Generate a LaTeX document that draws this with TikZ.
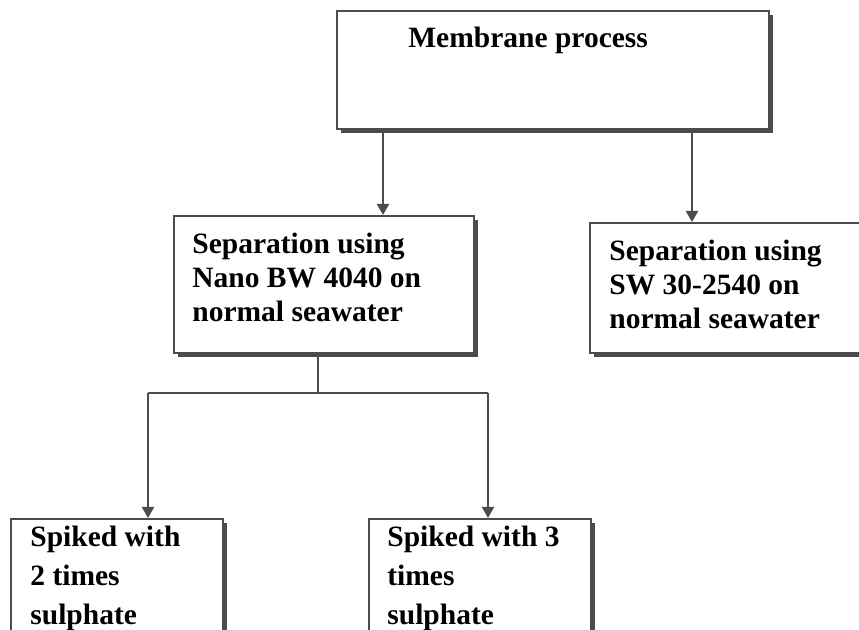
\documentclass[tikz,border=0pt]{standalone}
\usepackage{fontspec}
\setmainfont{Liberation Serif}
\usepackage{tikz}
\usetikzlibrary{arrows.meta,shadows}

\begin{document}
\begin{tikzpicture}[x=0.5pt,y=-0.5pt,
 box/.style={draw=black!70,line width=1pt,fill=white,anchor=north west,inner sep=0pt,
  drop shadow={shadow xshift=2.2pt,shadow yshift=-2.2pt,fill=black!70,opacity=1}},
 txt/.style={anchor=north west,inner sep=0pt,align=left,font=\fontsize{14.75pt}{16.9pt}\selectfont\bfseries},
 txtb/.style={txt,font=\fontsize{14.75pt}{19.3pt}\selectfont\bfseries},
 ln/.style={draw=black!70,line width=1pt},
 arr/.style={ln,-{Triangle[width=6pt,length=5.5pt]}}]
\useasboundingbox (0,0) rectangle (859,630);
\clip (0,0) rectangle (859,630);
\node[box,minimum width=216pt,minimum height=59pt] (top) at (336,10) {};
\node[txt] (toptxt) at (408,27) {Membrane process};
\node[box,minimum width=150pt,minimum height=68.5pt] (nano) at (173,215) {};
\node[txt] (nanotxt) at (192,233) {Separation using\\Nano BW 4040 on\\normal seawater};
\node[box,minimum width=140.5pt,minimum height=65pt] (sw) at (589,222) {};
\node[txt] (swtxt) at (609,240) {Separation using\\SW 30-2540 on\\normal seawater};
\node[box,minimum width=106pt,minimum height=66pt] (two) at (10,518) {};
\node[txtb] (twotxt) at (30,526) {Spiked with\\2 times\\sulphate};
\node[box,minimum width=111pt,minimum height=66pt] (three) at (368,518) {};
\node[txtb] (threetxt) at (387,526) {Spiked with 3\\times\\sulphate};
% connectors
\draw[arr] ([xshift=23.5pt]top.south west) coordinate (p1) -- (p1 |- nano.north);
\draw[arr] ([xshift=178pt]top.south west) coordinate (p2) -- (p2 |- sw.north);
\coordinate (jl) at (148,393);
\coordinate (jr) at (488,393);
\draw[ln] ([xshift=72.5pt]nano.south west) coordinate (p3) -- (p3 |- jl);
\draw[ln] (jl) -- (jr);
\draw[arr] (jl) -- (jl |- two.north);
\draw[arr] (jr) -- (jr |- three.north);
\end{tikzpicture}
\end{document}
